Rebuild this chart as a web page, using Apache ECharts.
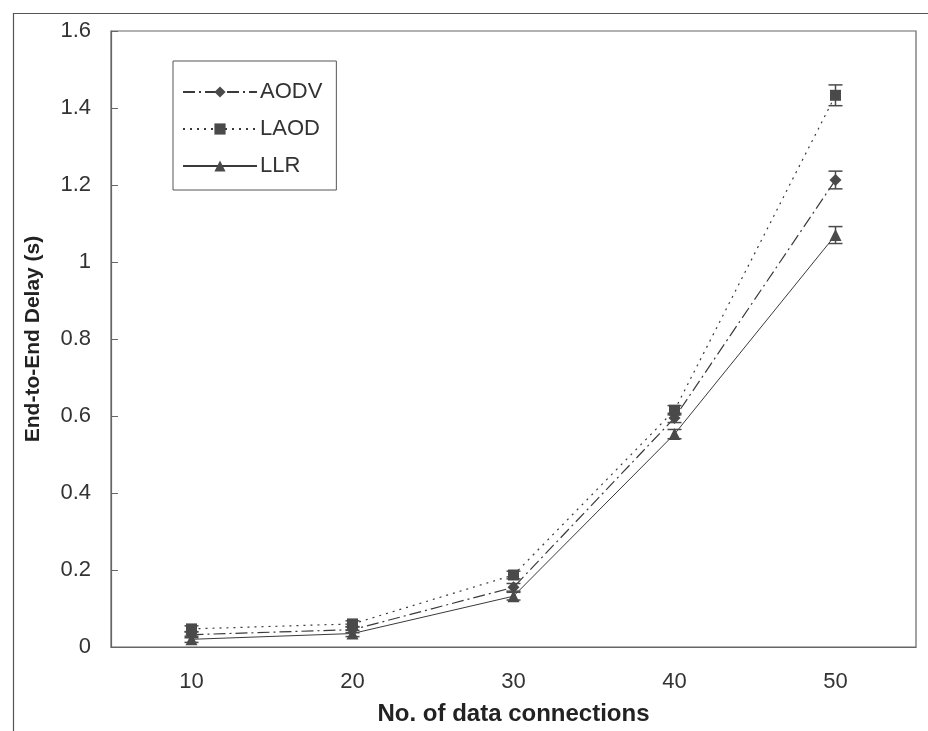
<!DOCTYPE html>
<html><head><meta charset="utf-8">
<script src="https://cdn.jsdelivr.net/npm/echarts@6/dist/echarts.min.js"></script>
<style>html,body{margin:0;padding:0;background:#fff}#c{width:928px;height:731px}</style>
</head><body><div id="c"></div>
<script>
const categories = ['10', '20', '30', '40', '50'];
const aodv = [0.032, 0.045, 0.155, 0.595, 1.213];
const laod = [0.047, 0.060, 0.187, 0.615, 1.433];
const llr  = [0.020, 0.035, 0.132, 0.553, 1.070];
const aodvErr = [0.008, 0.008, 0.01, 0.012, 0.023];
const laodErr = [0.008, 0.008, 0.01, 0.012, 0.027];
const llrErr  = [0.008, 0.008, 0.01, 0.012, 0.022];
const yTicks = [0, 0.2, 0.4, 0.6, 0.8, 1, 1.2, 1.4, 1.6];

const FONT = 'Liberation Sans, Arial, sans-serif';
const LINE = '#3a3a3a';
const MARK = '#4a4a4a';

function errSeries(vals, errs) {
  return {
    type: 'custom',
    silent: true,
    z: 5,
    data: vals.map((v, i) => [i, v - errs[i], v + errs[i]]),
    renderItem: function (params, api) {
      const lo = api.coord([api.value(0), api.value(1)]);
      const hi = api.coord([api.value(0), api.value(2)]);
      const w = 7;
      const st = { stroke: MARK, lineWidth: 1.5 };
      return { type: 'group', children: [
        { type: 'line', shape: { x1: lo[0], y1: lo[1], x2: hi[0], y2: hi[1] }, style: st },
        { type: 'line', shape: { x1: lo[0] - w, y1: lo[1], x2: lo[0] + w, y2: lo[1] }, style: st },
        { type: 'line', shape: { x1: hi[0] - w, y1: hi[1], x2: hi[0] + w, y2: hi[1] }, style: st }
      ]};
    }
  };
}

const chart = echarts.init(document.getElementById('c'), null, { renderer: 'canvas' });
chart.setOption({
  backgroundColor: '#fff',
  animation: false,
  textStyle: { fontFamily: FONT },
  graphic: [{
    type: 'rect', left: 11, top: 11, silent: true,
    shape: { width: 930, height: 740 },
    style: { fill: 'none', stroke: '#555', lineWidth: 1.2 }
  }],
  grid: { left: 111, top: 31, right: 12, bottom: 83, show: true, borderColor: '#666', borderWidth: 1.2 },
  legend: {
    orient: 'vertical', left: 173, top: 61,
    borderColor: '#555', borderWidth: 1, padding: [20, 14, 13, 9],
    itemWidth: 74, itemHeight: 14, itemGap: 15,
    textStyle: { fontSize: 22, color: '#333', fontFamily: FONT, padding: [0, 0, 0, -2] },
    data: ['AODV', 'LAOD', 'LLR']
  },
  xAxis: {
    type: 'category', data: categories, boundaryGap: true,
    name: 'No. of data connections', nameLocation: 'middle', nameGap: 55,
    nameTextStyle: { fontSize: 24, fontWeight: 'bold', color: '#222', fontFamily: FONT },
    axisLine: { lineStyle: { color: '#666', width: 1.2 } },
    axisTick: { inside: true, length: 7, lineStyle: { color: '#666' } },
    axisLabel: { fontSize: 22, color: '#333', margin: 24 },
    splitLine: { show: false }
  },
  yAxis: {
    type: 'value', min: 0, max: 1.6, interval: 0.2,
    name: 'End-to-End Delay (s)', nameLocation: 'middle', nameGap: 67,
    nameTextStyle: { fontSize: 21, fontWeight: 'bold', color: '#222', fontFamily: FONT },
    axisLine: { show: true, lineStyle: { color: '#666', width: 1.2 } },
    axisTick: { show: true, inside: true, length: 7, lineStyle: { color: '#666' } },
    axisLabel: { fontSize: 22, color: '#333', margin: 20,
      formatter: v => { const t = yTicks.find(x => Math.abs(x - v) < 1e-9); return t === undefined ? '' : String(t); } },
    splitLine: { show: false }
  },
  series: [
    { name: 'AODV', type: 'line', data: aodv, symbol: 'diamond', symbolSize: 12, z: 3,
      lineStyle: { color: LINE, width: 1.2, type: [12, 4, 2, 4] },
      itemStyle: { color: MARK } },
    { name: 'LAOD', type: 'line', data: laod, symbol: 'rect', symbolSize: 11, z: 3,
      lineStyle: { color: LINE, width: 1.2, type: [2, 5] },
      itemStyle: { color: MARK } },
    { name: 'LLR', type: 'line', data: llr, symbol: 'triangle', symbolSize: 12, z: 3,
      lineStyle: { color: LINE, width: 1, type: 'solid' },
      itemStyle: { color: MARK } },
    errSeries(aodv, aodvErr),
    errSeries(laod, laodErr),
    errSeries(llr, llrErr)
  ]
});
</script></body></html>
